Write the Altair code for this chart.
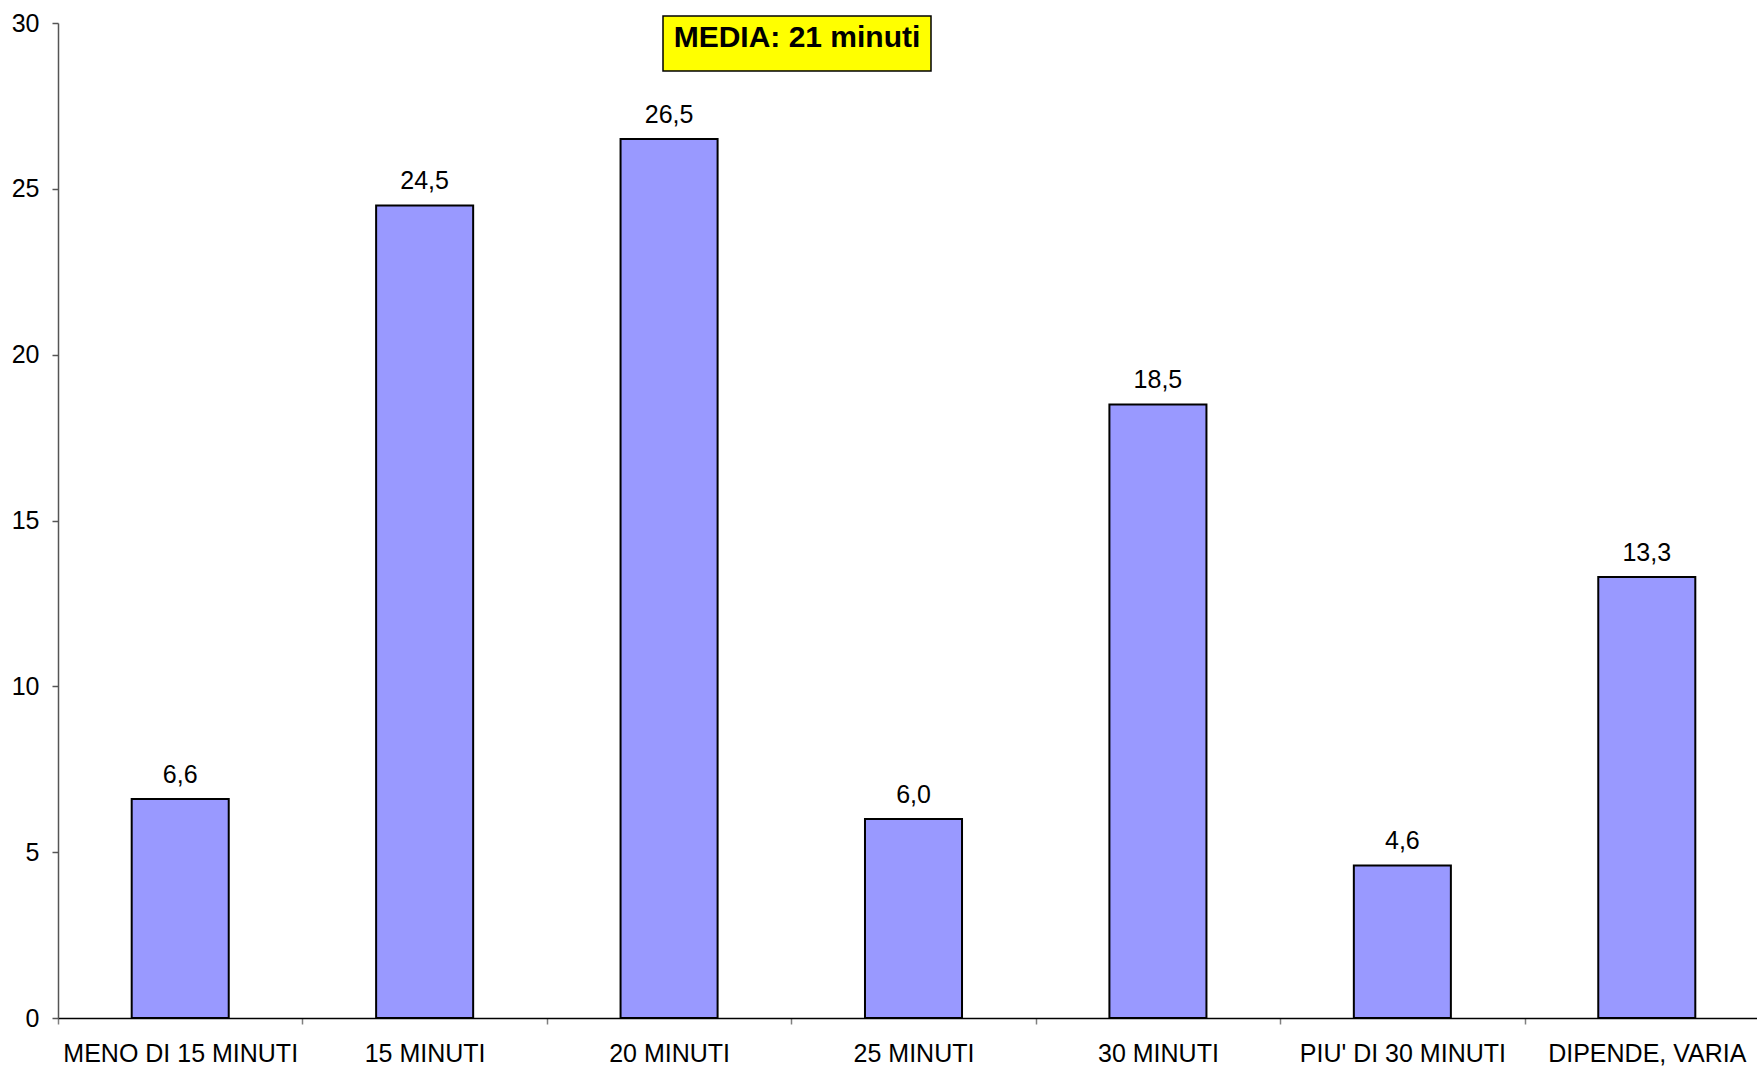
import altair as alt
import pandas as pd

categories = ["MENO DI 15 MINUTI", "15 MINUTI", "20 MINUTI", "25 MINUTI",
              "30 MINUTI", "PIU' DI 30 MINUTI", "DIPENDE, VARIA"]
values = [6.6, 24.5, 26.5, 6.0, 18.5, 4.6, 13.3]
y_ticks = [0, 5, 10, 15, 20, 25, 30]
note_text = "MEDIA: 21 minuti"

df = pd.DataFrame({"cat": categories, "val": values})

FONT = "Liberation Sans"

x_enc = alt.X("cat:N", sort=categories,
              scale=alt.Scale(range=[0, 1711], paddingInner=0, paddingOuter=0),
              axis=alt.Axis(title=None, labelAngle=0, tickBand="extent", tickSize=6,
                            labelPadding=17, labelFontSize=25, labelFont=FONT,
                            labelColor="black", domainColor="black", domainWidth=1.5,
                            tickColor="#808080", tickWidth=1.5, labelLimit=400))
y_enc = alt.Y("val:Q", scale=alt.Scale(domain=[0, 30], nice=False),
              axis=alt.Axis(title=None, values=y_ticks, grid=False, tickSize=6,
                            labelPadding=13, labelFontSize=25, labelFont=FONT,
                            labelColor="black", domainColor="#555555", domainWidth=1.5,
                            tickColor="#555555", tickWidth=1.5))

base = alt.Chart(df)

bars = base.mark_bar(color="#9999FF", stroke="black", strokeWidth=2,
                     width=alt.RelativeBandSize(0.397)).encode(x=x_enc, y=y_enc)

labels = base.transform_calculate(
    lab="replace(format(datum.val, '.1f'), '.', ',')"
).mark_text(dy=-16, baseline="alphabetic", fontSize=25, font=FONT, color="black").encode(
    x=alt.X("cat:N", sort=categories), y="val:Q", text="lab:N")

box = alt.Chart(pd.DataFrame({"t": [note_text]})).mark_rect(
    color="#FFFF00", stroke="black", strokeWidth=1.5).encode(
    x=alt.value(605), x2=alt.value(873), y=alt.value(-7), y2=alt.value(48))

note = alt.Chart(pd.DataFrame({"t": [note_text]})).mark_text(
    fontSize=30, fontWeight="bold", font=FONT, color="black",
    baseline="alphabetic", align="center").encode(
    x=alt.value(739), y=alt.value(24), text="t:N")

chart = alt.layer(bars, labels, box, note).properties(
    width=1699, height=995,
    autosize=alt.AutoSizeParams(type="none"),
    padding={"left": 58, "top": 23, "right": 0, "bottom": 48},
).configure(background="white", view=alt.ViewConfig(stroke=None))

chart.save("out.html", embed_options={"renderer": "svg", "actions": False})
